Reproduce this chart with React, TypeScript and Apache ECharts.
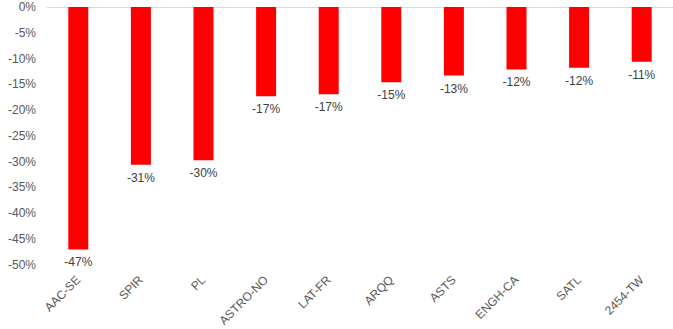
import React, { useEffect, useRef } from "react";
import * as echarts from "echarts";

const categories = ["AAC-SE", "SPIR", "PL", "ASTRO-NO", "LAT-FR", "ARQQ", "ASTS", "ENGH-CA", "SATL", "2454-TW"];
const values = [-47.0, -30.6, -29.7, -17.3, -16.9, -14.6, -13.3, -12.1, -11.8, -10.6];
const yMin = -50;
const yMax = 0;
const yInterval = 5;

export default function App() {
  const ref = useRef<HTMLDivElement>(null);
  useEffect(() => {
    if (!ref.current) return;
    const chart = echarts.init(ref.current, null, { renderer: "svg" });
    const font = "'Liberation Sans', Arial, sans-serif";
    chart.setOption({
      animation: false,
      backgroundColor: "#ffffff",
      grid: { left: 47, right: 0, top: 7, bottom: 63, containLabel: false },
      xAxis: [
        {
          type: "category",
          data: categories,
          position: "bottom",
          axisLine: { show: false },
          axisTick: { show: false },
          axisLabel: {
            rotate: 45,
            margin: 13,
            color: "#595959",
            fontSize: 12,
            fontFamily: font,
            interval: 0,
          },
        },
        {
          type: "category",
          data: categories,
          position: "top",
          axisLine: { show: true, lineStyle: { color: "#d9d9d9", width: 1 } },
          axisTick: { show: false },
          axisLabel: { show: false },
        },
      ],
      yAxis: {
        type: "value",
        min: yMin,
        max: yMax,
        interval: yInterval,
        axisLine: { show: false },
        axisTick: { show: false },
        splitLine: { show: false },
        axisLabel: {
          margin: 11,
          color: "#595959",
          fontSize: 12,
          fontFamily: font,
          formatter: (v: number) => `${Math.round(v)}%`,
        },
      },
      series: [
        {
          type: "bar",
          xAxisIndex: 0,
          data: values,
          barWidth: 20,
          itemStyle: { color: "#ff0000" },
          label: {
            show: true,
            position: "bottom",
            distance: 7,
            color: "#404040",
            fontSize: 12,
            fontFamily: font,
            formatter: (p: any) => `${Math.round(p.value)}%`,
          },
        },
      ],
    });
    return () => chart.dispose();
  }, []);
  return <div ref={ref} style={{ position: "absolute", left: 0, top: 0, width: 673, height: 329 }} />;
}
